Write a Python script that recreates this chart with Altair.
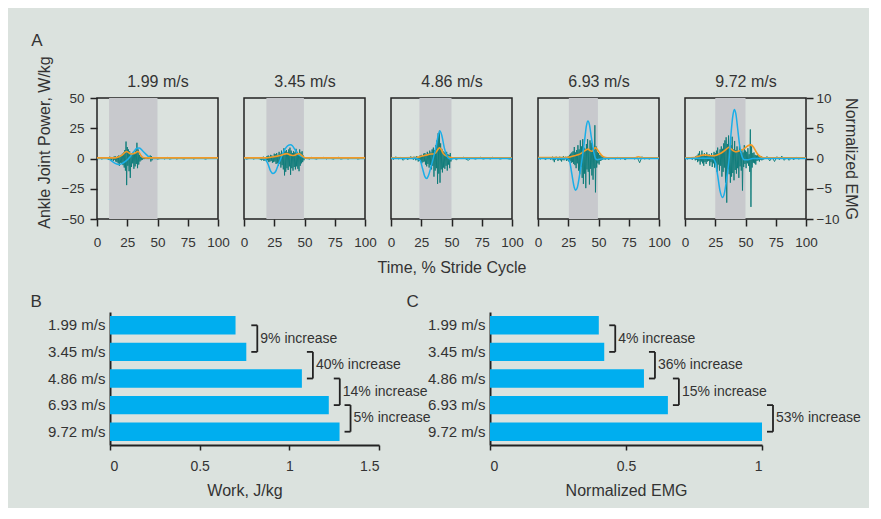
import altair as alt
import pandas as pd

FONT = "Liberation Sans"
TXT = "#333333"
BG = "#dbe2de"
SHADE = "#c8c9cd"
BLUE = "#1aaee8"
TEAL = "#0b7b78"
ORANGE = "#f39a26"
BAR = "#00aeef"
AXC = "#222222"

speeds = ["1.99 m/s", "3.45 m/s", "4.86 m/s", "6.93 m/s", "9.72 m/s"]

# stance-phase shading (% stride)
shade_start = [10, 18.5, 23.5, 25.5, 25]
shade_end = [50, 49.5, 50, 49.5, 50]

# ankle joint power (W/kg)
power_t = [
    [0, 8, 10, 12, 15, 18, 21, 24, 27, 30, 33, 35, 38, 41, 44, 46, 100],
    [0, 16, 18, 20, 22, 24, 26, 28, 30, 32, 34, 36, 38.5, 40, 42, 44, 46, 48, 50, 52, 100],
    [0, 18, 20, 22, 24, 26, 28, 29.5, 31, 33, 35, 37, 39, 40.5, 42, 44, 46, 48, 50, 52, 100],
    [0, 24, 26, 28, 30, 31, 32.5, 34.5, 36.5, 38.5, 40, 41.3, 42.5, 44, 46, 47.5, 49, 52, 55, 100],
    [0, 10, 20, 23, 25, 27, 29, 31, 32.5, 34.5, 36.5, 38, 39.5, 40.8, 42, 43.5, 45, 47, 49, 52, 56, 100],
]
power_v = [
    [0, 0, -0.5, -2, -4, -5, -4, -2, 1, 5, 8.5, 8.6, 6, 3, 0.5, 0, 0],
    [0, 0, -1, -5, -10.5, -12.4, -11, -6, -1, 4, 8, 10.5, 11.3, 10.5, 7.5, 4.5, 2.5, 1.5, 0.3, 0, 0],
    [0, 0, 0.5, -0.3, -1.5, -8, -15, -16.5, -14, -7, 0.5, 9, 19, 22.8, 19, 9, 2.5, 0, -0.5, 0, 0],
    [0, 0, -2, -13, -24, -26.3, -24, -13, 0, 15, 27, 31, 28, 18, 6, 0, -1, -0.5, 0, 0],
    [0, 0.3, 0.3, 0, -3, -14, -27, -32.2, -29, -16, 0, 20, 35, 40.5, 37, 25, 12, 2, -1, -1, 0, 0],
]

# smoothed EMG envelope (normalized EMG units)
env_t = [
    [0, 15, 18, 21, 23, 24.5, 26, 28, 30, 32, 33.5, 34.5, 36, 38, 40, 100],
    [0, 18, 22, 26, 30, 33, 35.5, 38, 40, 42, 44, 45.5, 47, 49, 51, 100],
    [0, 20, 24, 27, 30, 33, 35, 37, 38.5, 40, 41.5, 43, 45, 47, 49, 51, 100],
    [0, 24, 27, 30, 33, 36, 38, 40, 41.3, 43, 44.5, 46, 47.5, 49, 51, 53.5, 56, 58, 80, 83, 86, 100],
    [0, 8, 11, 14, 17, 20, 23, 26, 29, 32, 34.5, 36.4, 38, 40, 42, 44, 46, 48, 50, 52, 54.5, 56.5, 58.5, 60.5, 63, 66, 100],
]
env_v = [
    [0.1, 0.1, 0.3, 0.6, 1.0, 1.15, 1.0, 0.75, 0.8, 0.95, 1.15, 1.1, 0.6, 0.15, 0.1, 0.1],
    [0.1, 0.1, 0.2, 0.35, 0.5, 0.7, 0.8, 0.6, 0.5, 0.55, 0.75, 0.8, 0.6, 0.3, 0.1, 0.1],
    [0.1, 0.15, 0.3, 0.45, 0.6, 0.75, 0.75, 0.95, 1.4, 1.75, 1.5, 0.9, 0.5, 0.3, 0.2, 0.1, 0.1],
    [0.15, 0.15, 0.3, 0.45, 0.6, 0.9, 1.2, 1.45, 1.55, 1.3, 1.2, 1.5, 1.8, 1.5, 0.9, 0.35, 0.15, 0.1, 0.1, 0.3, 0.1, 0.1],
    [0.1, 0.15, 0.35, 0.55, 0.6, 0.5, 0.45, 0.55, 0.8, 1.2, 1.6, 1.85, 1.6, 1.25, 1.1, 1.2, 1.35, 1.5, 1.8, 2.1, 2.25, 1.9, 1.2, 0.6, 0.25, 0.1, 0.1],
]

# raw EMG, read as segments: (start %, sampling step %, values)
emg_segments = [
    [
        (0, 2, [0.0, 0.1, -0.1, 0.1]),
        (8, 0.5, [0.1, -0.1, 0.2, -0.2, 0.1, 0.3, -0.2, 0.1, -0.3, 0.2, 0.1, -0.4, 0.3, -0.2, 0.4, -0.5,
                  0.2, -0.6, 0.4, -0.8, 0.5, -1.2, 0.3, -0.7, 0.6, -0.9, 0.8, -1.1, 1.0, -1.5, 1.4, -2.0,
                  2.8, -4.4, 1.9, -1.2, 1.5, -2.1, 1.2, -3.2, 0.8, -1.4, 0.9, -0.8, 1.1, -1.7, 0.7, -1.3,
                  1.3, -0.9, 2.6, -1.6, 1.5, -1.0, 0.6, -0.5, 0.3, -0.3, 0.2, -0.2, 0.1, -0.1, 0.1, -0.1,
                  0.1, -0.1, 0.0, 0.1, -0.1, 0.1, -0.1, 0.2, 0.5, -0.5, 0.4, -0.3, 0.0]),
        (48, 2, [0.1, -0.1, 0.0, 0.1, -0.1, 0.2, -0.1, 0.0, 0.1, -0.1, 0.1, 0.0, -0.1, 0.1, 0.0, 0.1,
                 -0.1, 0.1, 0.0, 0.1, 0.0, -0.1, 0.1, 0.0, 0.1, 0.0, 0.0]),
    ],
    [
        (0, 2, [0.1, -0.1, 0.0, 0.1, -0.1, 0.1]),
        (12, 0.5, [0.1, -0.1, 0.2, -0.2, 0.1, -0.3, 0.2, -0.2, 0.3, -0.4, 0.1, -0.3,
                   0.2, -0.5, 0.4, -0.3, 0.5, -0.6, 0.3, -0.5, 0.6, -0.4, 0.5, -0.7,
                   0.4, -0.6, 0.8, -0.5, 0.7, -0.9, 0.9, -0.8, 0.6, -1.2, 1.1, -0.9,
                   0.8, -1.5, 1.3, -1.1, 0.9, -1.8, 1.7, -2.8, 1.2, -2.2, 1.4, -1.6,
                   1.0, -1.9, 1.5, -1.3, 1.8, -2.7, 1.3, -1.6, 0.9, -2.0, 1.2, -1.4,
                   1.0, -1.8, 1.6, -1.3, 1.1, -1.7, 0.9, -2.1, 1.5, -1.2, 1.0, -0.8,
                   1.2, -0.6, 0.5, -0.3, 0.1]),
        (52, 2, [0.1, -0.1, 0.2, 0.0, -0.1, 0.1, 0.0, 0.2, -0.1, 0.1, 0.0, -0.1, 0.1, 0.2, -0.1,
                 0.0, 0.1, -0.1, 0.1, 0.0, 0.1, -0.1, 0.0, 0.1, 0.0]),
    ],
    [
        (0, 2, [0.2, -0.2, 0.3, -0.1, 0.2, -0.3, 0.1, -0.2, 0.3]),
        (18, 0.5, [0.1, -0.2, 0.3, -0.1, 0.2, -0.3, 0.4, -0.2, 0.3, -0.5, 0.2, -0.4,
                   0.5, -0.3, 0.6, -0.8, 0.4, -0.6, 0.8, -0.5, 0.9, -1.0, 0.7, -1.3,
                   1.1, -0.9, 0.8, -1.5, 1.3, -1.1, 1.0, -1.8, 1.5, -1.2, 1.8, -3.0,
                   1.4, -2.0, 2.2, -1.6, 3.0, -4.2, 4.2, -2.5, 4.6, -4.0, 2.5, -1.8,
                   1.6, -2.3, 1.2, -1.5, 1.0, -1.7, 0.9, -1.2, 1.1, -2.0, 0.7, -1.0,
                   0.6, -1.6, 0.9, -0.5, 0.1]),
        (52, 2, [0.1, -0.2, 0.1, 0.0, 0.2, -0.1, -0.3, 0.1, 0.0, -0.1, 0.1, 0.2, -0.1, 0.0, 0.1,
                 -0.1, 0.2, 0.0, 0.1, -0.1, 0.0, 0.1, 0.0, -0.1, 0.0]),
    ],
    [
        (0, 2, [0.1, -0.1, 0.2, -0.2, 0.1]),
        (10, 0.5, [0.1, -0.2, 0.2, -0.1, 0.3, -0.3, 0.1, -0.6, 0.2, -0.2, 0.3, -0.1, 0.2, -0.4, 0.1,
                   -0.2, 0.3, -0.3, 0.2, -0.5, 0.1, -0.2, 0.4, -0.3, 0.2, -0.1, 0.3, -0.4, 0.2,
                   -0.3, 0.4, -0.5, 0.6, -0.4, 0.8, -0.7, 1.0, -0.6,
                   1.2, -0.9, 1.9, -1.1, 1.0, -1.6, 1.4, -0.8, 2.2, -2.0,
                   1.5, -2.6, 3.0, -1.4, 2.0, -3.2, 3.2, -4.2, 1.8, -2.5,
                   1.6, -4.9, 2.4, -1.8, 3.2, -2.2, 1.5, -4.3, 3.0, -1.7,
                   2.6, -2.8, 1.9, -3.5, 1.2, -1.6, 5.5, -5.6, 2.0, -1.5,
                   1.1, -0.8, 0.9,
                   -1.0, 0.6, -0.4, 0.5, -0.3, 0.3, -0.2, 0.2, -0.1, 0.1, -0.2, 0.1, -0.1, 0.2, -0.1,
                   0.1, -0.2, 0.1, 0.0, 0.1]),
        (62, 2, [0.1, -0.1, 0.2, -0.1, 0.1, -0.2, 0.1, 0.0, 0.1, -0.1, 0.2, -0.7, 0.3, -0.1, 0.1,
                 -0.1, 0.1, 0.0, 0.1, 0.0]),
    ],
    [
        (0, 2, [0.1, -0.1, 0.2, -0.2]),
        (8, 0.5, [0.2, -0.3, 0.4, -0.2, 0.5, -0.6, 0.8, -0.4, 1.2, -1.0, 0.6, -0.5, 1.3, -0.8, 0.5,
                  -1.2, 0.9, -0.6, 0.4, -0.9, 1.0, -0.5, 0.6, -0.4, 0.7,
                  -1.2, 0.5, -0.6, 0.9, -1.4, 0.4, -0.8, 1.1, -1.5, 0.9, -0.7, 1.3, -2.2, 1.8, -1.0,
                  0.8, -2.0, 1.5, -1.2, 2.0,
                  -3.0, 1.6, -2.2, 2.5, -1.5, 3.0, -4.0, 3.5, -7.3, 2.4, -1.8, 3.8, -2.6, 1.7, -4.0,
                  2.2, -3.0, 3.6, -2.4, 1.5,
                  -3.6, 2.9, -1.9, 1.4, -2.5, 2.0, -1.6, 1.2, -3.2, 2.1, -1.3, 0.9, -2.0, 1.5, -5.3,
                  1.0, -1.4, 2.2, -0.9, 1.3,
                  -1.6, 1.1, -0.8, 1.7, -1.2, 0.7, -2.2, 4.8, -8.0, 2.0, -1.5, 0.9, -0.7, 1.0, -0.8,
                  0.6, -1.0, 0.5, -0.4, 0.6,
                  -0.3, 0.4, -0.5, 0.3, -0.2, 0.4, -0.3, 0.2, -0.2, 0.1, -0.1, 0.1]),
        (68, 2, [0.3, -0.4, 0.2, -0.5, 0.3, -0.2, 0.4, -0.3, 0.2, -0.3, 0.1, -0.2, 0.2, -0.1, 0.1,
                 0.0, 0.1]),
    ],
]

# panel B / C values
work = [0.70, 0.76, 1.07, 1.22, 1.28]
emg_norm = [0.40, 0.42, 0.566, 0.654, 1.0]
work_incr = ["9% increase", "40% increase", "14% increase", "5% increase"]
emg_incr = ["4% increase", "36% increase", "15% increase", "53% increase"]


def emg_frame(segs):
    rows = []
    for start, step, vals in segs:
        for k, v in enumerate(vals):
            rows.append({"t": start + step * k, "v": v})
    return pd.DataFrame(rows)


PW, PH = 121, 121


def xs():
    return alt.Scale(domain=[0, 100], nice=False, zero=False)


def panel(i):
    bottom_axis = alt.Axis(orient="bottom", values=[0, 25, 50, 75, 100], tickSize=7, labelPadding=9,
                           labelFlush=False, labelOverlap=False,
                           title="Time, % Stride Cycle" if i == 2 else None,
                           titlePadding=11, domain=False)
    top_axis = alt.Axis(orient="top", title=speeds[i], ticks=False, labels=False, domain=False,
                        titlePadding=9, titleFontSize=16)
    shade = alt.Chart(pd.DataFrame({"a": [shade_start[i]], "b": [shade_end[i]]})).mark_rect(
        color=SHADE).encode(x=alt.X("a:Q", scale=xs(), axis=top_axis), x2="b:Q")
    emg_axis = None
    if i == 4:
        emg_axis = alt.Axis(orient="right", values=[-10, -5, 0, 5, 10], tickSize=7, labelPadding=3,
                            title="Normalized EMG", titlePadding=4, domain=False)
    emg = alt.Chart(emg_frame(emg_segments[i])).mark_line(color=TEAL, strokeWidth=0.9).encode(
        x=alt.X("t:Q", scale=xs(), axis=bottom_axis),
        y=alt.Y("v:Q", scale=alt.Scale(domain=[-10, 10], nice=False), axis=emg_axis))
    env = alt.Chart(pd.DataFrame({"t": env_t[i], "v": env_v[i]})).mark_line(
        color=ORANGE, strokeWidth=1.6, interpolate="monotone").encode(
        x=alt.X("t:Q", scale=xs(), axis=None),
        y=alt.Y("v:Q", scale=alt.Scale(domain=[-10, 10], nice=False), axis=None))
    pw_axis = None
    if i == 0:
        pw_axis = alt.Axis(orient="left", values=[-50, -25, 0, 25, 50], tickSize=7, labelPadding=6,
                           title="Ankle Joint Power, W/kg", titlePadding=9, titleY=44, domain=False)
    pw = alt.Chart(pd.DataFrame({"t": power_t[i], "v": power_v[i]})).mark_line(
        color=BLUE, strokeWidth=1.5, interpolate="monotone").encode(
        x=alt.X("t:Q", scale=xs(), axis=None),
        y=alt.Y("v:Q", scale=alt.Scale(domain=[-50, 50], nice=False), axis=pw_axis))
    layers = [shade, emg, pw, env] if i < 2 else [shade, emg, env, pw]
    return alt.layer(*layers).resolve_scale(x="independent", y="independent").properties(
        width=PW, height=PH,
        view=alt.ViewBackground(stroke=AXC, strokeWidth=1.5, fill=None),
    )


row_a = alt.hconcat(*[panel(i) for i in range(5)], spacing=26, bounds="flush").properties(
    title=alt.TitleParams("A", anchor="start", fontSize=17, offset=5, dx=-4))


def bar_panel(vals, incr, dmax, width, ticks, xtitle, letter, letter_dx):
    px_per = width / dmax
    off = 11 / px_per
    tick_len = 6 / px_per
    bdf = pd.DataFrame({"speed": speeds, "val": vals})
    rows = []
    for k in range(4):
        bx = max(vals[k], vals[k + 1]) + off
        rows.append({"top": speeds[k], "bottom": speeds[k + 1], "bx": bx, "bxl": bx - tick_len,
                     "label": incr[k]})
    brk = pd.DataFrame(rows)
    band = alt.Scale(domain=speeds, paddingInner=0.31, paddingOuter=0.155)
    xsc = alt.Scale(domain=[0, dmax], nice=False)
    xaxis = alt.Axis(values=ticks, format="~g", title=xtitle, tickSize=5, labelPadding=9,
                     titlePadding=9, domainWidth=2, labelFontSize=14, titleFontSize=16)
    yaxis = alt.Axis(title=None, ticks=False, labelPadding=5, domainWidth=2, labelFontSize=15)
    bars = alt.Chart(bdf).mark_bar(color=BAR).encode(
        x=alt.X("val:Q", scale=xsc, axis=xaxis),
        y=alt.Y("speed:N", scale=band, sort=speeds, axis=yaxis))
    vline = alt.Chart(brk).mark_rule(color=AXC, strokeWidth=1.8).encode(
        x=alt.X("bx:Q", scale=xsc), y=alt.Y("top:N", scale=band, sort=speeds), y2="bottom:N")
    t1 = alt.Chart(brk).mark_rule(color=AXC, strokeWidth=1.8).encode(
        x=alt.X("bxl:Q", scale=xsc), x2="bx:Q", y=alt.Y("top:N", scale=band, sort=speeds))
    t2 = alt.Chart(brk).mark_rule(color=AXC, strokeWidth=1.8).encode(
        x=alt.X("bxl:Q", scale=xsc), x2="bx:Q", y=alt.Y("bottom:N", scale=band, sort=speeds))
    txt = alt.Chart(brk).mark_text(align="left", baseline="middle", dx=3, dy=13.3, fontSize=14,
                                   color=TXT, font=FONT).encode(
        x=alt.X("bx:Q", scale=xsc), y=alt.Y("top:N", scale=band, sort=speeds), text="label:N")
    return alt.layer(bars, vline, t1, t2, txt).properties(
        width=width, height=133,
        title=alt.TitleParams(letter, anchor="start", fontSize=17, dx=letter_dx, offset=1),
        view=alt.ViewBackground(stroke=None),
    )


chart_b = bar_panel(work, work_incr, 1.5, 269, [0, 0.5, 1, 1.5], "Work, J/kg", "B", -17)
chart_c = bar_panel(emg_norm, emg_incr, 1.0, 272, [0, 0.5, 1], "Normalized EMG", "C", -21)

spacer = alt.Chart(pd.DataFrame({"s": [0]})).mark_point(opacity=0).encode(
    x=alt.X("s:Q", axis=None), y=alt.Y("s:Q", axis=None)
).properties(width=13, height=10, view=alt.ViewBackground(stroke=None))

row_b = alt.hconcat(spacer, alt.hconcat(chart_b, chart_c, spacing=111, bounds="flush"),
                    spacing=0, bounds="flush")

chart = alt.vconcat(row_a, row_b, spacing=16).properties(
    background=BG,
    padding={"left": 22, "top": 23, "right": 8, "bottom": 10},
).configure_axis(
    labelFont=FONT, titleFont=FONT, labelColor=TXT, titleColor=TXT, domainColor=AXC,
    tickColor=AXC, tickWidth=1.5, domainWidth=1.5, grid=False, titleFontWeight="normal",
    labelFontSize=13.5, titleFontSize=16,
).configure_title(
    font=FONT, color=TXT, fontWeight="normal",
).configure_text(font=FONT).configure_view(stroke=None)

chart.save("out.html", embed_options={"renderer": "svg", "actions": False})
